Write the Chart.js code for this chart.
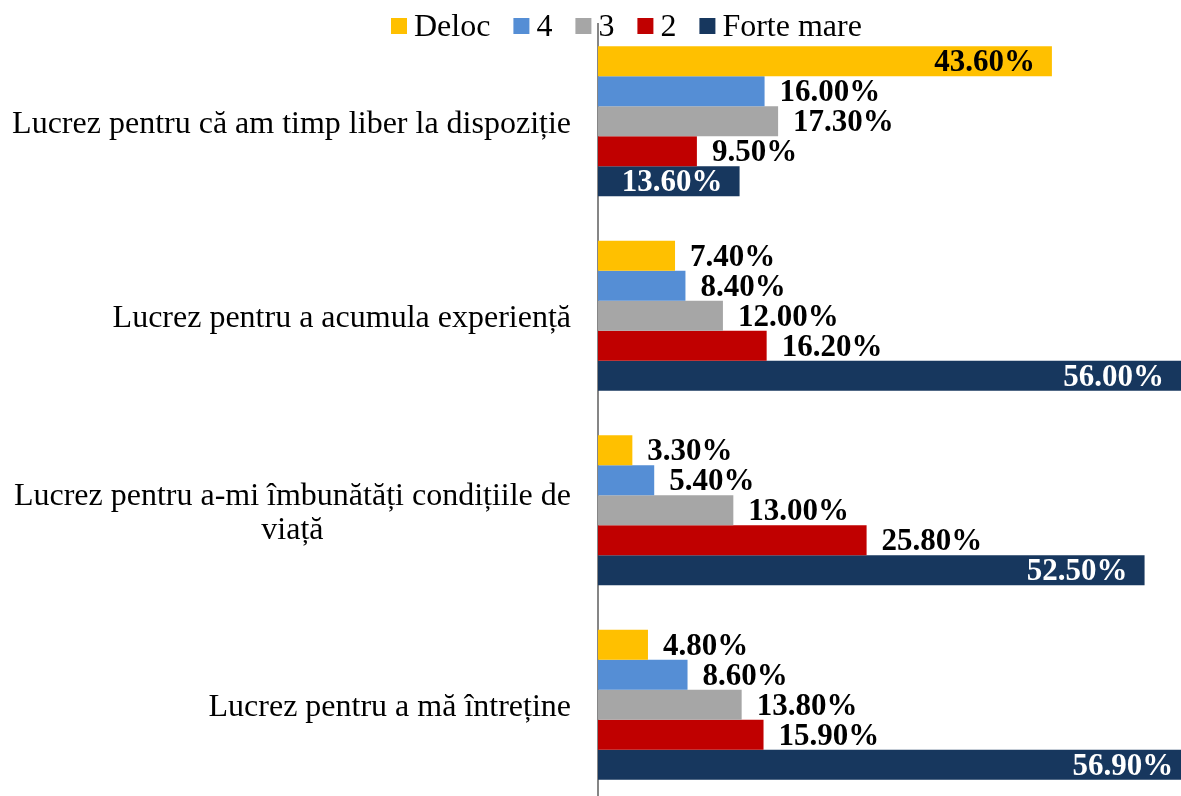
<!DOCTYPE html>
<html>
<head>
<meta charset="utf-8">
<script src="https://cdn.jsdelivr.net/npm/chart.js@4.4.1/dist/chart.umd.min.js"></script>
<style>
    html, body { margin: 0; padding: 0; background: #fff; overflow: hidden; }
    #wrap { position: relative; width: 1181px; height: 802px; }
</style>
</head>
<body>
<div id="wrap"><canvas id="chart"></canvas></div>
<script>
// --- Data ---
const categories = [
    ['Lucrez pentru că am timp liber la dispoziție'],
    ['Lucrez pentru a acumula experiență'],
    ['Lucrez pentru a-mi îmbunătăți condițiile de', 'viață'],
    ['Lucrez pentru a mă întreține']
];
const seriesNames = ['Deloc', '4', '3', '2', 'Forte mare'];
const deloc = [43.6, 7.4, 3.3, 4.8];
const val4 = [16.0, 8.4, 5.4, 8.6];
const val3 = [17.3, 12.0, 13.0, 13.8];
const val2 = [9.5, 16.2, 25.8, 15.9];
const forteMare = [13.6, 56.0, 52.5, 56.9];
const seriesColors = ['#FFC000', '#558ED5', '#A6A6A6', '#C00000', '#17375E'];

const FONT = '"Liberation Serif", "Times New Roman", serif';

// --- Plugins ---
const categoryLabels = {
    id: 'categoryLabels',
    afterDraw(chart) {
        const ctx = chart.ctx;
        const y = chart.scales.y;
        ctx.save();
        ctx.font = '32px ' + FONT;
        ctx.fillStyle = '#000';
        ctx.textAlign = 'center';
        ctx.textBaseline = 'middle';
        const right = 571, lh = 34;
        categories.forEach((lines, i) => {
            const cy = y.getPixelForValue(i) + 3;
            const w = Math.max(...lines.map(l => ctx.measureText(l).width));
            const cx = right - w / 2;
            const top = cy - (lines.length - 1) * lh / 2;
            lines.forEach((l, j) => ctx.fillText(l, cx, top + j * lh));
        });
        ctx.restore();
    }
};

const valueLabels = {
    id: 'valueLabels',
    afterDatasetsDraw(chart) {
        const ctx = chart.ctx;
        ctx.save();
        ctx.font = 'bold 31px ' + FONT;
        ctx.textBaseline = 'middle';
        chart.data.datasets.forEach((ds, di) => {
            const meta = chart.getDatasetMeta(di);
            meta.data.forEach((bar, i) => {
                const v = ds.data[i];
                const text = v.toFixed(2) + '%';
                // navy series always inside, other series only for the long yellow bar
                const inside = di === 4 || v > 40;
                if (inside) {
                    ctx.textAlign = 'right';
                    ctx.fillStyle = di === 4 ? '#fff' : '#000';
                    ctx.fillText(text, bar.x - 17, bar.y + 2);
                } else {
                    ctx.textAlign = 'left';
                    ctx.fillStyle = '#000';
                    ctx.fillText(text, bar.x + 15, bar.y + 2);
                }
            });
        });
        ctx.restore();
    }
};

const topLegend = {
    id: 'topLegend',
    afterDraw(chart) {
        const ctx = chart.ctx;
        ctx.save();
        ctx.font = '32px ' + FONT;
        ctx.textBaseline = 'middle';
        ctx.textAlign = 'left';
        let x = 391;
        const cy = 27;
        seriesNames.forEach((name, i) => {
            ctx.fillStyle = seriesColors[i];
            ctx.fillRect(x, cy - 9, 16, 16);
            x += 23;
            ctx.fillStyle = '#000';
            ctx.fillText(name, x, cy + 1);
            x += ctx.measureText(name).width + 23;
        });
        ctx.restore();
    }
};

// --- Chart ---
const seriesValues = [deloc, val4, val3, val2, forteMare];
new Chart(document.getElementById('chart'), {
    type: 'bar',
    data: {
        labels: categories.map(c => c.join(' ')),
        datasets: seriesNames.map((name, i) => ({
            label: name,
            data: seriesValues[i],
            backgroundColor: seriesColors[i],
            borderWidth: 0,
            categoryPercentage: 0.77,
            barPercentage: 1
        }))
    },
    options: {
        indexAxis: 'y',
        responsive: true,
        maintainAspectRatio: false,
        animation: false,
        layout: { padding: { top: 24, left: 0, right: 0, bottom: 0 } },
        scales: {
            x: { display: false, min: 0, max: 56 },
            y: {
                ticks: { display: false },
                grid: { display: true, drawOnChartArea: false, drawTicks: false },
                border: { display: true, color: '#868686', width: 2 },
                afterFit: s => { s.width = 598; }
            }
        },
        plugins: {
            legend: { display: false },
            tooltip: { enabled: false }
        }
    },
    plugins: [categoryLabels, valueLabels, topLegend]
});
</script>
</body>
</html>
